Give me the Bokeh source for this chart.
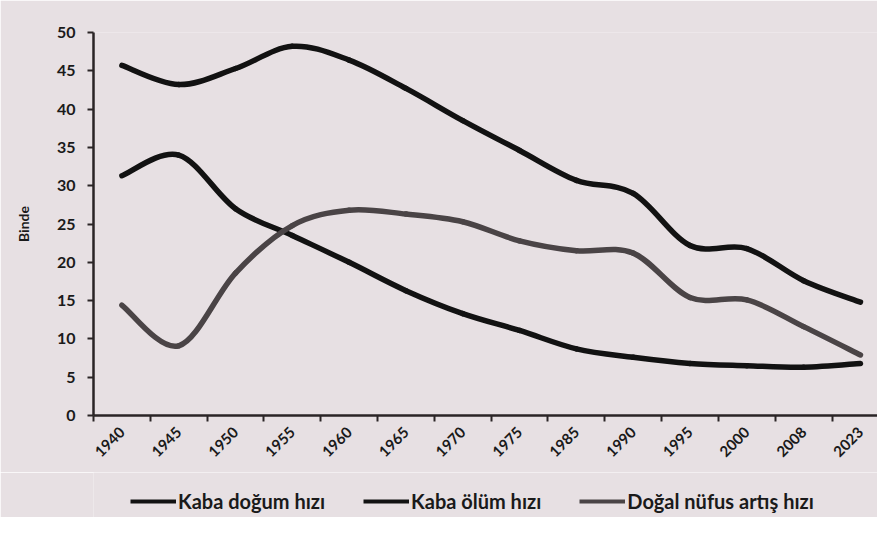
import numpy as np
from bokeh.plotting import figure
from bokeh.layouts import column
from bokeh.models import Range1d, FixedTicker, Legend, LegendItem
from bokeh.embed import file_html
from bokeh.resources import INLINE

years = ["1940", "1945", "1950", "1955", "1960", "1965", "1970", "1975",
         "1985", "1990", "1995", "2000", "2008", "2023"]
birth = [45.7, 43.2, 45.3, 48.2, 46.4, 42.7, 38.5, 34.6, 30.7, 29.0, 22.2, 21.8, 17.6, 14.8]
death = [31.3, 34.0, 27.0, 23.5, 20.0, 16.3, 13.3, 11.1, 8.7, 7.6, 6.8, 6.5, 6.3, 6.8]
natural = [14.4, 9.1, 18.6, 24.8, 26.8, 26.3, 25.3, 22.8, 21.5, 21.2, 15.4, 15.1, 11.6, 7.9]

series_names = ["Kaba doğum hızı", "Kaba ölüm hızı", "Doğal nüfus artış hızı"]
series_vals = [birth, death, natural]
series_colors = ["#121212", "#121212", "#4a4446"]

BG = "#e7e0e3"
FONT = "Lato"

n = len(years)
xs = np.arange(n, dtype=float)

p = figure(width=877, height=472, output_backend="svg", toolbar_location=None,
           x_range=Range1d(-0.5, n - 0.7), y_range=Range1d(0, 50),
           min_border_left=93, min_border_right=0, min_border_top=32,
           min_border_bottom=57)
p.background_fill_color = BG
p.border_fill_color = BG
p.outline_line_color = None
p.xgrid.visible = False
p.ygrid.visible = False


def bezier_parts(y):
    y = np.asarray(y, dtype=float)
    yp = np.concatenate([[y[0]], y, [y[-1]]])
    xp = np.concatenate([[xs[0]], xs, [xs[-1]]])
    x0, y0 = xp[1:-2], yp[1:-2]
    x1, y1 = xp[2:-1], yp[2:-1]
    cx0 = x0 + (xp[2:-1] - xp[:-3]) / 6.0
    cy0 = y0 + (yp[2:-1] - yp[:-3]) / 6.0
    cx1 = x1 - (xp[3:] - xp[1:-2]) / 6.0
    cy1 = y1 - (yp[3:] - yp[1:-2]) / 6.0
    return dict(x0=x0, y0=y0, x1=x1, y1=y1, cx0=cx0, cy0=cy0, cx1=cx1, cy1=cy1)


for name, vals, col in zip(series_names, series_vals, series_colors):
    d = bezier_parts(vals)
    p.bezier(x0=d["x0"], y0=d["y0"], x1=d["x1"], y1=d["y1"],
             cx0=d["cx0"], cy0=d["cy0"], cx1=d["cx1"], cy1=d["cy1"],
             line_color=col, line_width=5.5, line_cap="round")

# x axis
xa = p.xaxis[0]
xa.ticker = FixedTicker(ticks=list(range(n)),
                        minor_ticks=[i - 0.5 for i in range(n + 1)])
xa.major_label_overrides = {i: y for i, y in enumerate(years)}
xa.major_label_orientation = np.pi / 4
xa.major_tick_line_color = None
xa.minor_tick_line_color = "#2a2426"
xa.minor_tick_line_width = 2
xa.minor_tick_in = 0
xa.minor_tick_out = 6
xa.axis_line_color = "#2a2426"
xa.axis_line_width = 2.5
xa.major_label_text_font = FONT
xa.major_label_text_font_style = "bold"
xa.major_label_text_font_size = "15px"
xa.major_label_text_color = "#1a1a1a"
xa.major_label_standoff = 8

# y axis
ya = p.yaxis[0]
ya.ticker = FixedTicker(ticks=list(range(0, 51, 5)))
ya.minor_tick_line_color = None
ya.major_tick_in = 0
ya.major_tick_out = 6
ya.major_tick_line_width = 2
ya.major_tick_line_color = "#2a2426"
ya.axis_line_color = "#2a2426"
ya.axis_line_width = 2.5
ya.major_label_text_font = FONT
ya.major_label_text_font_style = "bold"
ya.major_label_text_font_size = "16px"
ya.major_label_text_color = "#1a1a1a"
ya.major_label_standoff = 12
ya.axis_label = "Binde"
ya.axis_label_text_font = FONT
ya.axis_label_text_font_style = "bold"
ya.axis_label_text_font_size = "14px"
ya.axis_label_text_color = "#1a1a1a"
ya.axis_label_standoff = 22

# legend strip (separate figure below the chart)
lg = figure(width=877, height=45, output_backend="svg", toolbar_location=None,
            x_range=Range1d(0, 1), y_range=Range1d(0, 1),
            min_border_left=0, min_border_right=0, min_border_top=0,
            min_border_bottom=0)
lg.background_fill_color = BG
lg.border_fill_color = BG
lg.outline_line_color = None
lg.axis.visible = False
lg.grid.visible = False

items = []
for name, col in zip(series_names, series_colors):
    # single-point proxy: draws nothing in the frame, only the legend sample
    r = lg.line(x=[0.5], y=[0.5], line_color=col, line_width=4)
    items.append(LegendItem(label=name, renderers=[r]))

legend = Legend(items=items, orientation="horizontal", location=(37, 4),
                background_fill_alpha=0.0, border_line_color=None,
                glyph_width=46, glyph_height=20,
                label_standoff=2, spacing=38, padding=0, margin=0,
                label_text_font=FONT, label_text_font_style="bold",
                label_text_font_size="20px", label_text_color="#1a1a1a")
lg.add_layout(legend, "center")

layout = column(p, lg, spacing=0)
open("out.html", "w").write(file_html(layout, INLINE))
